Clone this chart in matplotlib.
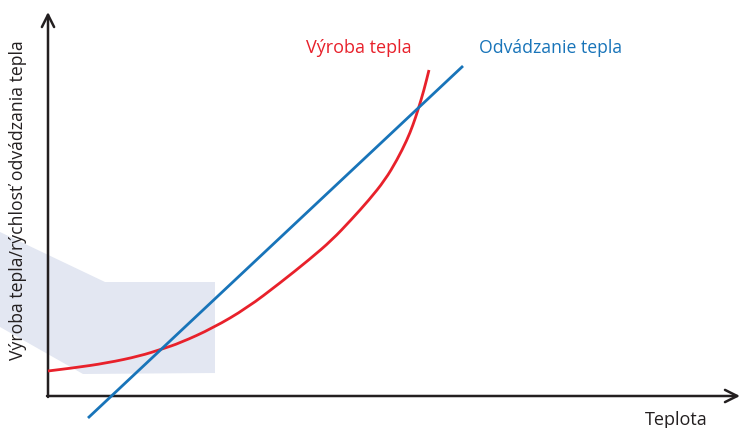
import matplotlib
matplotlib.use("Agg")
import matplotlib.pyplot as plt
from matplotlib.patches import Polygon, PathPatch
from matplotlib.path import Path

# values measured from the origin of the axes (arbitrary units)
heat_x = [0, 25, 59, 92, 114, 132, 165, 199, 232, 262, 284, 303, 321, 337, 349, 359, 365, 370, 376, 381]
heat_y = [25, 28, 33, 40, 47, 53, 68, 88, 113, 137, 156, 176, 196, 216, 236, 256, 271, 286, 306, 326]

removal_x = [40, 415]
removal_y = [-22, 330]

zone_x = [-48, 57, 167, 167, 35, -48]
zone_y = [164, 114, 114, 23, 22, 69]

RED = "#e8212b"
BLUE = "#1874b9"
INK = "#231f20"

plt.rcParams['font.family'] = ['Open Sans', 'DejaVu Sans']


def smooth_path(xs, ys):
    # quadratic curves through the midpoints, measured points act as controls
    pts = list(zip(xs, ys))
    verts = [pts[0]]
    codes = [Path.MOVETO]
    for i in range(1, len(pts) - 1):
        mid = ((pts[i][0] + pts[i + 1][0]) / 2, (pts[i][1] + pts[i + 1][1]) / 2)
        verts += [pts[i], mid]
        codes += [Path.CURVE3, Path.CURVE3]
    verts.append(pts[-1])
    codes.append(Path.LINETO)
    return Path(verts, codes)


fig = plt.figure(figsize=(7.44, 4.28), dpi=100)
ax = fig.add_axes([48 / 744, 32 / 428, 692 / 744, 384 / 428])
ax.set_xlim(0, 692)
ax.set_ylim(0, 384)
ax.axis("off")

# shaded zone
ax.add_patch(Polygon(list(zip(zone_x, zone_y)), closed=True, facecolor="#e3e7f2",
                     edgecolor="none", clip_on=False, zorder=1))

# axes with arrows
arrow = dict(arrowstyle="->", lw=1.8, color=INK, mutation_scale=22, shrinkA=0, shrinkB=0)
ax.annotate("", xy=(692, 0), xytext=(-1, 0), arrowprops=arrow, annotation_clip=False, zorder=3)
ax.annotate("", xy=(0, 384), xytext=(0, -1), arrowprops=arrow, annotation_clip=False, zorder=3)

ax.add_patch(PathPatch(smooth_path(heat_x, heat_y), facecolor="none", edgecolor=RED,
                       lw=2.0, clip_on=False, zorder=4, capstyle="butt"))
ax.plot(removal_x, removal_y, color=BLUE, lw=2.0, clip_on=False, zorder=5, solid_capstyle="butt")

ax.text(310.5, 348, "Výroba tepla", color=RED, fontsize=13, ha="center", va="center")
ax.text(503, 348, "Odvádzanie tepla", color=BLUE, fontsize=12.7, ha="center", va="center")

ax.text(628.5, -24, "Teplota", color=INK, fontsize=13, ha="center", va="center")
ax.text(-30, 196, "Výroba tepla/rýchlosť odvádzania tepla", color=INK, fontsize=12.7,
        ha="center", va="center", rotation=90)

fig.savefig("out.png", dpi=100)
